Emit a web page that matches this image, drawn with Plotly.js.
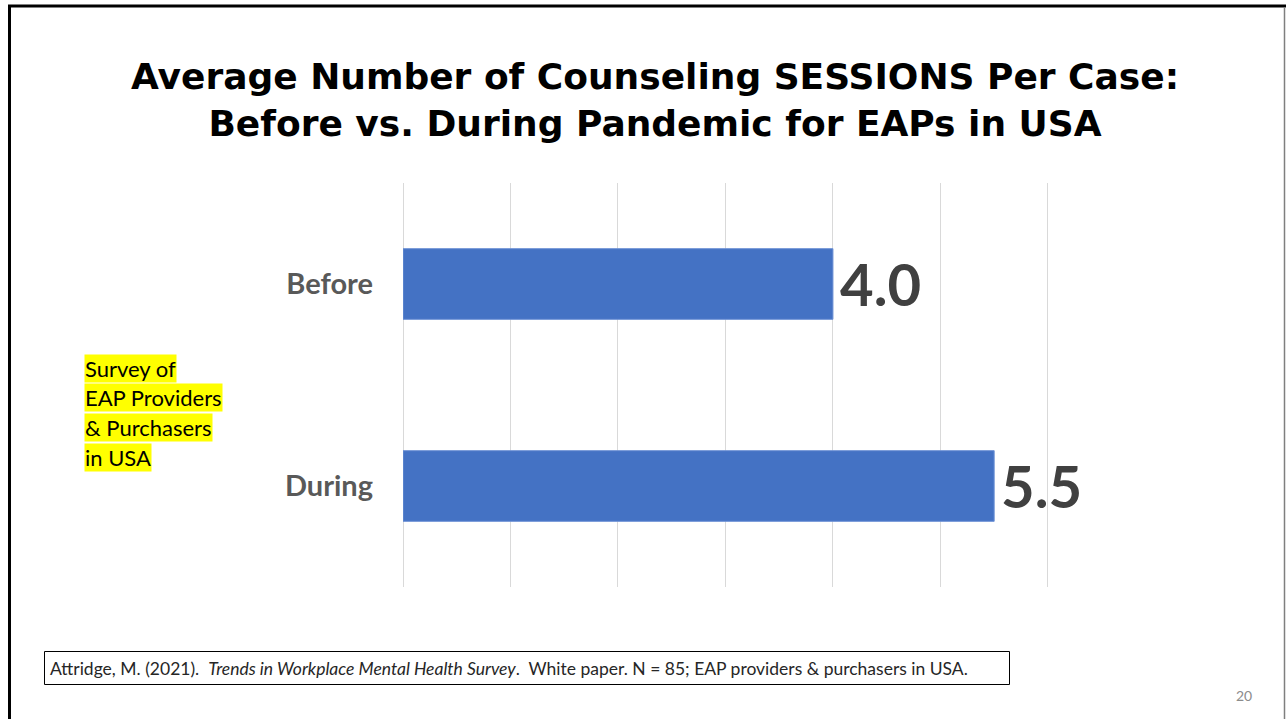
<!DOCTYPE html>
<html>
<head>
<meta charset="utf-8">
<script src="https://cdn.plot.ly/plotly-3.0.1.min.js"></script>
<style>
  html, body { margin: 0; padding: 0; background: #ffffff; }
  #chart { width: 1286px; height: 719px; }
</style>
</head>
<body>
<div id="chart"></div>
<script>
// Average counseling sessions per EAP case, before and during the pandemic
const periods = ["Before", "During"];
const sessions = [4.0, 5.5];

const titleLines = [
  "Average Number of Counseling SESSIONS Per Case:",
  "Before vs. During Pandemic for EAPs in USA"
];
const surveyLines = ["Survey of", "EAP Providers", "& Purchasers", "in USA"];
const citation = "Attridge, M. (2021).  <i>Trends in Workplace Mental Health Survey</i>.  White paper. N = 85; EAP providers & purchasers in USA.";
const slideNumber = "20";

// Page geometry (pixels) and the plot area inside it
const W = 1286, H = 719;
const M = { l: 403, r: 237, t: 183, b: 132 };
const plotW = W - M.l - M.r, plotH = H - M.t - M.b;
const px = x => (x - M.l) / plotW;          // pixel x -> paper x
const py = y => (H - M.b - y) / plotH;      // pixel y -> paper y

const bodyFont = "Lato, 'Open Sans', sans-serif";

const trace = {
  type: "bar",
  orientation: "h",
  x: sessions,
  y: periods,
  marker: { color: "#4472C4", line: { color: "#6f93d6", width: 1 } },
  hoverinfo: "none",
  showlegend: false
};

const annotations = [];

// value labels at the end of each bar
sessions.forEach((v, i) => {
  annotations.push({
    x: v, y: periods[i], xref: "x", yref: "y",
    text: "<b>" + v.toFixed(1) + "</b>",
    showarrow: false, xanchor: "left", yanchor: "middle", xshift: 5, yshift: 1,
    font: { family: bodyFont, size: 58, color: "#404040" }
  });
});

// highlighted survey note, one highlighted line at a time
surveyLines.forEach((line, i) => {
  annotations.push({
    x: px(84), y: py(368 + i * 29.7), xref: "paper", yref: "paper",
    text: line, showarrow: false, xanchor: "left", yanchor: "middle",
    bgcolor: "#FFFF00", borderpad: 0,
    font: { family: bodyFont, size: 22, color: "#000000" }
  });
});

// citation box text
annotations.push({
  x: px(48), y: py(668), xref: "paper", yref: "paper",
  text: citation, showarrow: false, xanchor: "left", yanchor: "middle",
  font: { family: bodyFont, size: 17.5, color: "#262626" }
});

// slide number
annotations.push({
  x: px(1254), y: py(695), xref: "paper", yref: "paper",
  text: slideNumber, showarrow: false, xanchor: "right", yanchor: "middle",
  font: { family: bodyFont, size: 14, color: "#8c8c8c" }
});

const shapes = [
  // slide frame
  { type: "line", xref: "paper", yref: "paper", x0: px(8), x1: px(1286), y0: py(6), y1: py(6),
    line: { color: "#000000", width: 3 } },
  { type: "line", xref: "paper", yref: "paper", x0: px(9.5), x1: px(9.5), y0: py(5), y1: py(719),
    line: { color: "#000000", width: 3 } },
  { type: "line", xref: "paper", yref: "paper", x0: px(1284.5), x1: px(1284.5), y0: py(7), y1: py(719),
    line: { color: "#7f7f7f", width: 1.5 } },
  // citation box
  { type: "rect", xref: "paper", yref: "paper", x0: px(44.5), x1: px(1009.5), y0: py(651.5), y1: py(684.5),
    line: { color: "#000000", width: 1 }, fillcolor: "rgba(0,0,0,0)" }
];

const layout = {
  width: W, height: H,
  margin: M,
  paper_bgcolor: "#ffffff",
  plot_bgcolor: "#ffffff",
  title: {
    text: "<b>" + titleLines.join("<br>") + "</b>",
    xref: "container", yref: "container",
    x: 655 / W, xanchor: "center",
    y: 1 - 89 / H, yanchor: "top",
    font: { family: "'DejaVu Sans', sans-serif", size: 36, color: "#000000" }
  },
  bargap: 0.65,
  xaxis: {
    // small overshoot so the gridline at 6 is kept at the right edge
    range: [0, 6.01], dtick: 1, tick0: 0,
    showticklabels: false, ticks: "",
    showgrid: true, gridcolor: "#d9d9d9", gridwidth: 1,
    zeroline: true, zerolinecolor: "#d9d9d9", zerolinewidth: 1,
    showline: false, fixedrange: true
  },
  yaxis: {
    type: "category",
    categoryorder: "array", categoryarray: periods,
    autorange: "reversed",
    showgrid: false, zeroline: false, showline: false, ticks: "",
    ticklabelstandoff: 29,
    tickfont: { family: bodyFont, size: 29, color: "#595959", weight: 700 },
    fixedrange: true
  },
  annotations: annotations,
  shapes: shapes
};

Plotly.newPlot("chart", [trace], layout, { displayModeBar: false, staticPlot: true });
</script>
</body>
</html>
